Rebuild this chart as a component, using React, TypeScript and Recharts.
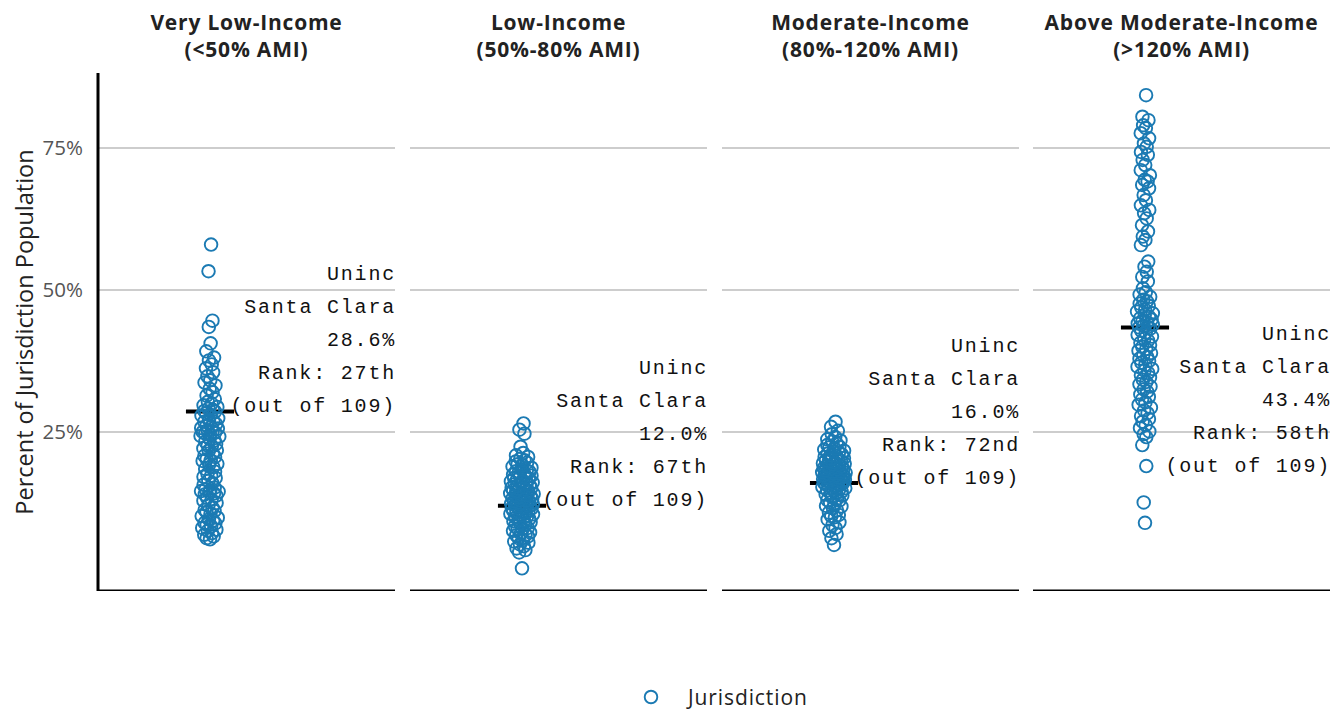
import { FC } from 'react'
import { ReferenceDot, ReferenceLine, Scatter, ScatterChart, XAxis, YAxis } from 'recharts'

const CATEGORIES = ['Very Low-Income', 'Low-Income', 'Moderate-Income', 'Above Moderate-Income']
const AMI_RANGES = ['(<50% AMI)', '(50%-80% AMI)', '(80%-120% AMI)', '(>120% AMI)']

// share of population per jurisdiction (%)
const VERY_LOW = [
    58.0, 53.3, 44.6, 43.5, 40.6, 39.2, 38.1, 37.6, 36.9, 36.2, 35.5, 34.8, 34.1, 33.7, 33.2, 32.6,
    32.0, 31.4, 30.8, 30.3, 30.0, 29.7, 29.4, 29.1, 28.9, 28.7, 28.6,
    28.3, 28.0, 27.9, 27.4, 27.1, 26.9, 26.8, 26.4, 26.1, 25.9, 25.7, 25.6, 25.3, 25.1, 25.0, 24.9,
    24.7, 24.3, 24.2, 23.8, 23.5, 23.3, 22.9, 22.6, 22.1, 21.8, 21.7, 21.2, 20.8, 20.6, 20.2, 19.9,
    19.4, 19.3, 18.8, 18.5, 18.0, 17.6, 17.3, 16.9, 16.4, 16.0, 15.7, 15.2, 14.9, 14.7, 14.6, 14.5,
    14.4, 14.2, 14.0, 13.8, 13.4, 12.9, 12.5, 12.1, 11.7, 11.3, 10.9, 10.6, 10.2, 9.9, 9.6, 9.4,
    9.0, 8.7, 8.4, 8.1, 7.8, 7.6, 7.2, 6.9, 6.6, 6.3, 24.5, 22.4, 20.0, 17.1, 13.1, 11.1, 8.9, 6.1,
]
const LOW = [
    26.5, 25.4, 24.7, 22.4, 21.3, 20.9, 20.6, 20.3, 20.0, 19.8, 19.6, 19.3, 19.1, 18.9, 18.7, 18.4,
    18.2, 18.0, 17.8, 17.6, 17.5, 17.3, 17.1, 16.9, 16.8, 16.6, 16.4, 16.3, 16.1, 15.9, 15.8, 15.6,
    15.5, 15.3, 15.2, 15.0, 14.9, 14.7, 14.6, 14.5, 14.3, 14.2, 14.1, 13.9, 13.8, 13.7, 13.5, 13.4,
    13.3, 13.2, 13.0, 12.9, 12.8, 12.7, 12.6, 12.5, 12.4, 12.3, 12.2, 12.1, 12.1, 14.0, 15.1, 16.0,
    17.0, 18.1, 12.0,
    11.9, 11.8, 11.6, 11.5, 11.3, 11.1, 11.0, 10.8, 10.6, 10.5, 10.3, 10.1, 9.9, 9.7, 9.6, 9.3,
    9.1, 8.9, 8.6, 8.4, 8.1, 7.9, 7.6, 7.3, 7.1, 6.8, 6.6, 6.3, 6.0, 5.7, 5.5, 5.2, 4.9, 4.5, 4.2,
    3.8, 1.0, 10.9, 9.4, 8.0, 6.9, 11.4,
]
const MODERATE = [
    26.8, 25.9, 25.2, 24.6, 24.1, 23.7, 23.3, 23.0, 22.7, 22.4, 22.1, 21.9, 21.7, 21.4, 21.2, 21.0,
    20.8, 20.6, 20.4, 20.2, 20.0, 19.9, 19.7, 19.5, 19.4, 19.2, 19.0, 18.9, 18.8, 18.6, 18.5, 18.4,
    18.2, 18.1, 18.0, 17.9, 17.8, 17.7, 17.6, 17.5, 17.4, 17.3, 17.2, 17.1, 17.0, 16.9, 16.8, 16.7,
    16.6, 16.5, 16.4, 16.3, 16.2, 16.1, 16.1, 16.2, 16.4, 16.7, 17.0, 17.3, 17.7, 18.1, 18.5, 18.9,
    19.3, 19.8, 20.3, 20.9, 21.5, 22.3, 23.5, 16.0,
    15.9, 15.8, 15.6, 15.5, 15.3, 15.1, 14.9, 14.7, 14.5, 14.3, 14.0, 13.8, 13.5, 13.2, 12.9, 12.6,
    12.3, 12.0, 11.6, 11.2, 10.8, 10.4, 10.0, 9.6, 9.1, 8.6, 8.1, 7.6, 7.0, 6.3, 5.1, 15.7, 15.0,
    14.2, 13.0, 11.9, 10.2,
]
const ABOVE_MODERATE = [
    84.3, 80.5, 79.9, 79.0, 78.5, 77.6, 76.7, 75.8, 75.2, 74.3, 73.8, 72.9, 72.0, 71.1, 70.2, 69.4,
    69.1, 68.5, 67.9, 66.7, 65.8, 64.9, 64.1, 63.5, 62.6, 61.4, 60.3, 59.4, 58.8, 57.9, 55.0, 54.1,
    53.2, 52.3, 51.5, 50.3, 49.6, 49.2, 48.8, 48.3, 48.0, 47.6, 47.2, 46.9, 46.5, 46.2, 45.9, 45.6,
    45.3, 45.0, 44.8, 44.5, 44.3, 44.1, 43.9, 43.7, 43.5, 43.4,
    43.2, 42.8, 42.5, 42.1, 41.8, 41.4, 41.1, 40.7, 40.3, 40.0, 39.6, 39.3, 38.9, 38.6, 38.2, 37.9,
    37.5, 37.2, 36.8, 36.5, 36.1, 35.8, 35.4, 35.0, 34.6, 34.2, 33.8, 33.4, 33.0, 32.5, 32.1, 31.6,
    31.2, 30.7, 30.2, 29.8, 29.3, 28.8, 28.3, 27.8, 27.3, 26.8, 26.2, 25.7, 25.1, 24.6, 24.1, 22.7,
    19.0, 12.6, 9.0,
]
const SERIES = [VERY_LOW, LOW, MODERATE, ABOVE_MODERATE]

// highlighted jurisdiction
const HIGHLIGHT_NAME = ['Uninc', 'Santa Clara']
const HIGHLIGHT_SHARE = [28.6, 12.0, 16.0, 43.4]
const HIGHLIGHT_RANK = ['27th', '67th', '72nd', '58th']
const TOTAL = 109

const Y_TICKS = [25, 50, 75]
const Y_DOMAIN: [number, number] = [-3, 88.2]

const BLUE = '#1b7ab3'
const SANS = '"Open Sans", "DejaVu Sans", sans-serif'
const MONO = '"Liberation Mono", "DejaVu Sans Mono", monospace'
const PANEL_W = 297
const PANEL_H = 518
const PANEL_TOP = 73
const PANEL_LEFT = [98, 410, 722, 1033]
const CENTER = 112 / PANEL_W
const PAD_R = 3

// quasirandom spread: van der Corput offsets scaled by local density
const vdc = (n: number) => {
    let v = 0
    let denom = 1
    while (n > 0) {
        denom *= 2
        v += (n % 2) / denom
        n = Math.floor(n / 2)
    }
    return v
}

const spread = (values: number[]) => {
    const sorted = [...values].sort((a, b) => a - b)
    return sorted.map((v, i) => {
        const d = sorted.filter(w => Math.abs(w - v) <= 1.5).length
        const half = 12 * Math.min(1, Math.pow(d / 22, 0.5))
        const off = (vdc(i + 1) * 2 - 1) * half
        return { x: CENTER + off / PANEL_W, y: v }
    })
}

const Dot = (p: any) => (
    <circle cx={p.cx} cy={p.cy} r={6.3} fill="none" stroke={BLUE} strokeWidth={1.9} />
)

const Note: FC<{ idx: number }> = ({ idx }) => {
    const share = HIGHLIGHT_SHARE[idx]
    const lines = [...HIGHLIGHT_NAME, `${share.toFixed(1)}%`, `Rank: ${HIGHLIGHT_RANK[idx]}`, `(out of ${TOTAL})`]
    const below = share > 40
    const shape = (p: any) => {
        const start = below ? p.cy + 7 : p.cy - 137
        return (
            <g>
                {lines.map((l, i) => (
                    <text
                        key={i}
                        x={p.cx + 1}
                        y={start + 33 * i}
                        textAnchor="end"
                        dominantBaseline="central"
                        fontFamily={MONO}
                        fontSize={20}
                        letterSpacing={1.8}
                        fill="#111"
                    >
                        {l}
                    </text>
                ))}
            </g>
        )
    }
    return <ReferenceDot x={1} y={share} r={0} shape={shape} ifOverflow="visible" />
}

const Panel: FC<{ idx: number }> = ({ idx }) => {
    const first = idx === 0
    const data = spread(SERIES[idx])
    const share = HIGHLIGHT_SHARE[idx]
    return (
        <div style={{ position: 'absolute', left: first ? 0 : PANEL_LEFT[idx], top: PANEL_TOP }}>
            <ScatterChart
                width={(first ? PANEL_LEFT[0] + PANEL_W : PANEL_W) + PAD_R}
                height={PANEL_H}
                margin={{ top: 0, right: PAD_R, bottom: 0, left: 0 }}
            >
                <XAxis type="number" dataKey="x" domain={[0, 1]} hide />
                <YAxis
                    type="number"
                    dataKey="y"
                    domain={Y_DOMAIN}
                    ticks={Y_TICKS}
                    hide={!first}
                    width={PANEL_LEFT[0]}
                    tickFormatter={v => `${v}%`}
                    tickLine={false}
                    axisLine={{ stroke: '#000', strokeWidth: 3 }}
                    tick={{ fontSize: 20.5, fill: '#555', fontFamily: SANS }}
                    tickMargin={9}
                    label={{
                        content: ({ viewBox }: any) => (
                            <text
                                x={24}
                                y={viewBox.y + viewBox.height / 2}
                                transform={`rotate(-90 24 ${viewBox.y + viewBox.height / 2})`}
                                textAnchor="middle"
                                dominantBaseline="central"
                                fontFamily={SANS}
                                fontSize={23.5}
                                fill="#222"
                            >
                                Percent of Jurisdiction Population
                            </text>
                        ),
                    }}
                />
                {Y_TICKS.map(t => (
                    <ReferenceLine key={t} y={t} stroke="#bdbdbd" strokeWidth={1.5} />
                ))}
                <ReferenceLine y={Y_DOMAIN[0]} stroke="#000" strokeWidth={3} />
                <Scatter data={data} shape={Dot} isAnimationActive={false} />
                <ReferenceLine
                    segment={[{ x: CENTER - 0.081, y: share }, { x: CENTER + 0.081, y: share }]}
                    stroke="#000"
                    strokeWidth={4}
                />
                <Note idx={idx} />
            </ScatterChart>
        </div>
    )
}

const App: FC = () => (
    <div style={{ position: 'absolute', left: 0, top: 0, width: 1333, height: 711, background: '#fff' }}>
        {CATEGORIES.map((c, i) => (
            <div
                key={c}
                style={{
                    position: 'absolute',
                    left: PANEL_LEFT[i],
                    top: 9,
                    width: PANEL_W,
                    textAlign: 'center',
                    fontFamily: SANS,
                    fontWeight: 700,
                    fontSize: 21,
                    letterSpacing: 0.8,
                    lineHeight: '27px',
                    color: '#222',
                    whiteSpace: 'nowrap',
                }}
            >
                <div style={{ height: 27 }}>{c}</div>
                <div style={{ height: 27 }}>{AMI_RANGES[i]}</div>
            </div>
        ))}
        {CATEGORIES.map((c, i) => (
            <Panel key={c} idx={i} />
        ))}
        <div
            style={{
                position: 'absolute',
                left: 643,
                top: 686,
                height: 22,
                display: 'flex',
                alignItems: 'center',
                fontFamily: SANS,
                fontSize: 21,
                letterSpacing: 0.9,
                lineHeight: '22px',
                color: '#222',
            }}
        >
            <svg width={16} height={16}>
                <circle cx={8} cy={8} r={6.3} fill="none" stroke={BLUE} strokeWidth={1.9} />
            </svg>
            <span style={{ marginLeft: 29 }}>Jurisdiction</span>
        </div>
    </div>
)

export default App
